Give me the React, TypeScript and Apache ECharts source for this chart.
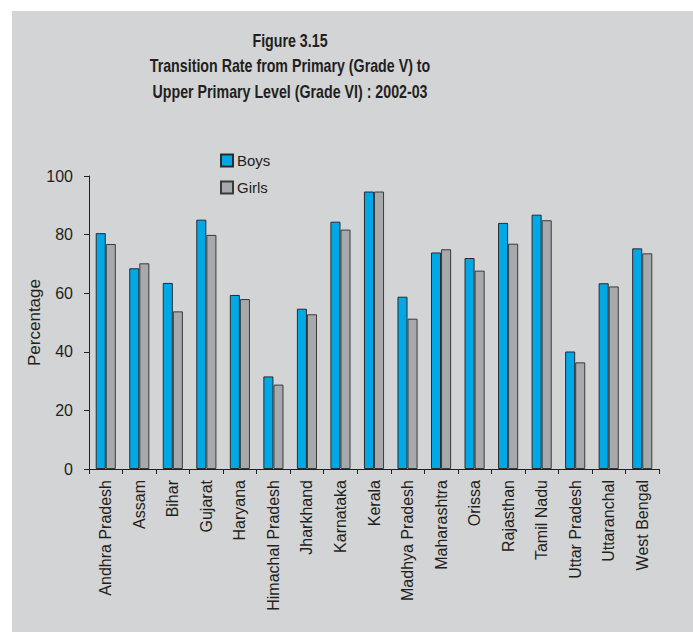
import React, { useEffect, useRef } from "react";
import * as echarts from "echarts";

const categories = [
  "Andhra Pradesh", "Assam", "Bihar", "Gujarat", "Haryana", "Himachal Pradesh",
  "Jharkhand", "Karnataka", "Kerala", "Madhya Pradesh", "Maharashtra", "Orissa",
  "Rajasthan", "Tamil Nadu", "Uttar Pradesh", "Uttaranchal", "West Bengal",
];
const boys = [80.5, 68.5, 63.5, 85.1, 59.4, 31.6, 54.7, 84.4, 94.7, 58.8, 73.9, 72.0, 84.0, 86.8, 40.1, 63.4, 75.3];
const girls = [76.8, 70.2, 53.8, 79.9, 58.0, 28.8, 52.8, 81.7, 94.7, 51.3, 75.0, 67.7, 76.9, 84.9, 36.4, 62.3, 73.6];
const yTicks = { min: 0, max: 100, interval: 20 };
const titleLines = [
  "Figure 3.15",
  "Transition Rate from Primary (Grade V) to",
  "Upper Primary Level (Grade VI) : 2002-03",
];

const FONT = "'Liberation Sans', Arial, Helvetica, sans-serif";
const TEXT = "#231f20";

export default function App() {
  const ref = useRef<HTMLDivElement>(null);
  useEffect(() => {
    document.body.style.margin = "0";
    const chart = echarts.init(ref.current!, undefined, { renderer: "svg" });
    chart.setOption({
      animation: false,
      backgroundColor: "#ffffff",
      textStyle: { fontFamily: FONT, color: TEXT },
      graphic: [
        {
          type: "rect",
          z: -10,
          silent: true,
          shape: { x: 12, y: 11, width: 693 - 12, height: 632 - 11 },
          style: { fill: "#d3d4d6" },
        },
        ...titleLines.map((t, i) => ({
          type: "text",
          x: 290,
          y: 40 + i * 25.5,
          scaleX: 0.79,
          style: {
            text: t,
            fill: TEXT,
            font: `bold 18px ${FONT}`,
            textAlign: "center",
            textVerticalAlign: "middle",
          },
        })),
      ],
      legend: {
        orient: "vertical",
        left: 220,
        top: 153,
        padding: 0,
        itemWidth: 12,
        itemHeight: 12,
        itemGap: 12,
        icon: "rect",
        textStyle: { fontSize: 15, color: TEXT, fontFamily: FONT, padding: [0, 0, 0, -1] },
        data: ["Boys", "Girls"],
      },
      grid: { left: 89, right: 34, top: 176, bottom: 163 },
      xAxis: {
        type: "category",
        data: categories,
        axisLine: { lineStyle: { color: "#231f20", width: 1 } },
        axisTick: { show: true, length: 5, lineStyle: { color: "#231f20" } },
        axisLabel: { rotate: 90, fontSize: 16, color: TEXT, margin: 11, fontFamily: FONT, interval: 0 },
      },
      yAxis: {
        type: "value",
        min: yTicks.min,
        max: yTicks.max,
        interval: yTicks.interval,
        name: "Percentage",
        nameLocation: "middle",
        nameGap: 46,
        nameMoveOverlap: false,
        nameTextStyle: { fontSize: 17, color: TEXT, fontFamily: FONT },
        axisLine: { show: true, lineStyle: { color: "#231f20", width: 1 } },
        axisTick: { show: true, length: 5, lineStyle: { color: "#231f20" } },
        axisLabel: { fontSize: 16, color: TEXT, margin: 16, fontFamily: FONT },
        splitLine: { show: false },
      },
      series: [
        {
          name: "Boys",
          type: "bar",
          data: boys,
          barGap: "0%",
          barCategoryGap: "40%",
          itemStyle: { color: "#00a9e6", borderColor: "#2b2b2b", borderWidth: 1 },
        },
        {
          name: "Girls",
          type: "bar",
          data: girls,
          barGap: "0%",
          barCategoryGap: "40%",
          itemStyle: { color: "#a7a9ac", borderColor: "#3a3a3a", borderWidth: 1 },
        },
      ],
    });
    return () => chart.dispose();
  }, []);
  return (
    <div
      ref={ref}
      style={{ position: "fixed", left: 0, top: 0, width: 693, height: 632 }}
    />
  );
}
